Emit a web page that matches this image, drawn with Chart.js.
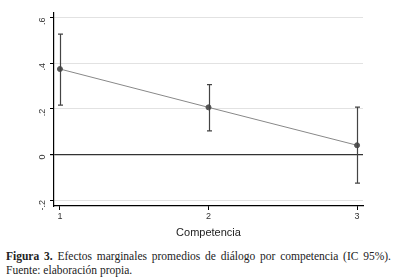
<!DOCTYPE html>
<html><head><meta charset="utf-8">
<script src="https://cdn.jsdelivr.net/npm/chart.js@4/dist/chart.umd.min.js"></script>
<style>
html,body{margin:0;padding:0;background:#fff;width:396px;height:279px;overflow:hidden}
#wrap{position:absolute;left:0;top:0;width:396px;height:240px}
#cap{position:absolute;left:6px;top:250px;width:385px;font-family:"Liberation Serif",serif;font-size:11.5px;line-height:13.5px;color:#222}
#cap .l1{text-align:justify;text-align-last:justify}
#cap b{font-weight:bold}
</style></head><body>
<div id="wrap"><canvas id="c" width="396" height="240"></canvas></div>
<div id="cap"><div class="l1"><b>Figura 3.</b> Efectos marginales promedios de diálogo por competencia (IC 95%).</div><div>Fuente: elaboración propia.</div></div>
<script>
const categories = [1, 2, 3];
const margins = [0.374, 0.206, 0.040];
const ciLower = [0.216, 0.103, -0.126];
const ciUpper = [0.527, 0.306, 0.207];
const yTicks = [-0.2, 0, 0.2, 0.4, 0.6];
const yTickLabels = ['-.2', '0', '.2', '.4', '.6'];
const xTitle = 'Competencia';

const errorBars = {
  id: 'errorBars',
  afterDatasetsDraw(chart) {
    const {ctx, scales: {x, y}} = chart;
    ctx.save();
    ctx.strokeStyle = '#444';
    ctx.lineWidth = 1.2;
    categories.forEach((c, i) => {
      const px = Math.round(x.getPixelForValue(c)) + 0.5;
      const hi = y.getPixelForValue(ciUpper[i]);
      const lo = y.getPixelForValue(ciLower[i]);
      ctx.beginPath();
      ctx.moveTo(px, hi); ctx.lineTo(px, lo);
      ctx.moveTo(px - 2.5, hi); ctx.lineTo(px + 2.5, hi);
      ctx.moveTo(px - 2.5, lo); ctx.lineTo(px + 2.5, lo);
      ctx.stroke();
    });
    ctx.restore();
  }
};

new Chart(document.getElementById('c'), {
  type: 'line',
  data: {
    datasets: [{
      data: categories.map((c, i) => ({x: c, y: margins[i]})),
      borderColor: '#888',
      borderWidth: 1,
      pointBackgroundColor: '#555',
      pointBorderColor: '#555',
      pointRadius: 2.5,
      tension: 0
    }]
  },
  options: {
    responsive: false,
    animation: false,
    layout: {padding: {left: 0, right: 33, top: 11, bottom: 0}},
    plugins: {legend: {display: false}, tooltip: {enabled: false}},
    scales: {
      x: {
        type: 'linear', min: 0.96, max: 3.04,
        afterBuildTicks(s) { s.ticks = categories.map(v => ({value: v})); },
        afterFit(s) { s.height = 34; },
        ticks: {callback: v => String(v), color: '#333', font: {family: 'Liberation Sans', size: 9}, padding: 1, maxRotation: 0},
        grid: {drawOnChartArea: false, tickLength: 4, tickColor: '#000'},
        border: {color: '#000', width: 1.2},
        title: {display: true, text: xTitle, color: '#222', font: {family: 'Liberation Sans', size: 11}, padding: {top: 2, bottom: 0}}
      },
      y: {
        min: -0.226, max: 0.622,
        afterBuildTicks(s) { s.ticks = yTicks.map(v => ({value: v})); },
        afterFit(s) { s.width = 54; },
        ticks: {
          callback: v => yTickLabels[yTicks.findIndex(t => Math.abs(t - v) < 1e-6)],
          color: '#333', font: {family: 'Liberation Sans', size: 9}, minRotation: 90, maxRotation: 90, padding: 7
        },
        grid: {
          color: ctx => (ctx.tick && Math.abs(ctx.tick.value) < 1e-9) ? '#333' : '#e2e2e2',
          lineWidth: ctx => (ctx.tick && Math.abs(ctx.tick.value) < 1e-9) ? 1.2 : 1,
          tickLength: 4, tickColor: '#000'
        },
        border: {color: '#000', width: 1.2}
      }
    }
  },
  plugins: [errorBars]
});
</script>
</body></html>
